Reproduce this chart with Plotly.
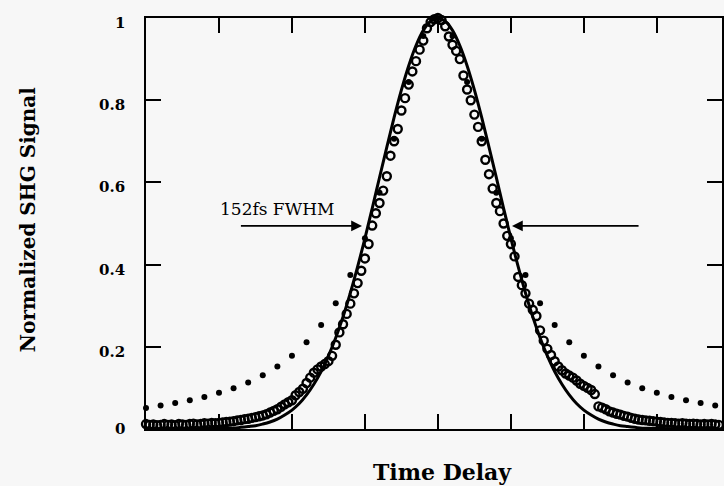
import numpy as np
import plotly.graph_objects as go

# ---- data (time delay in tick units, normalized SHG signal) ----
data_x = np.round(np.linspace(-4.0, 3.9, 159), 2)
data_y = [
    0.012, 0.010, 0.011, 0.009, 0.010, 0.012, 0.010, 0.011, 0.009, 0.012,
    0.011, 0.010, 0.012, 0.013, 0.011, 0.012, 0.014, 0.013, 0.015, 0.014,
    0.015, 0.016, 0.017, 0.018, 0.019, 0.021, 0.022, 0.024, 0.025, 0.027,
    0.029, 0.031, 0.033, 0.036, 0.040, 0.044, 0.048, 0.054, 0.060, 0.065,
    0.070, 0.082, 0.090, 0.098, 0.112, 0.125, 0.137, 0.145, 0.152, 0.158,
    0.165, 0.178, 0.205, 0.235, 0.255, 0.280, 0.305, 0.330, 0.355, 0.385,
    0.415, 0.450, 0.495, 0.525, 0.550, 0.580, 0.615, 0.665, 0.700, 0.730,
    0.775, 0.805, 0.838, 0.870, 0.895, 0.923, 0.945, 0.975, 0.990, 0.997,
    1.000,
    0.995, 0.980, 0.955, 0.935, 0.920, 0.900, 0.860, 0.826, 0.800, 0.765,
    0.735, 0.700, 0.655, 0.620, 0.585, 0.550, 0.530, 0.500, 0.470, 0.450,
    0.420, 0.370, 0.350, 0.330, 0.305, 0.290, 0.275, 0.240, 0.215, 0.195,
    0.180, 0.165, 0.152, 0.143, 0.135, 0.130, 0.125, 0.118, 0.110, 0.105,
    0.100, 0.095, 0.085, 0.055, 0.052, 0.048, 0.043, 0.040, 0.037, 0.035,
    0.032, 0.030, 0.027, 0.025, 0.023, 0.022, 0.021, 0.020, 0.019, 0.018,
    0.017, 0.016, 0.015, 0.015, 0.014, 0.013, 0.014, 0.013, 0.012, 0.013,
    0.012, 0.011, 0.012, 0.011, 0.012, 0.011, 0.010, 0.011,
]

# solid fitted curve
fit_x = np.round(np.linspace(-4.0, 3.9, 80), 1)
fit_y = [
    0.000, 0.000, 0.000, 0.000, 0.000, 0.000, 0.000, 0.000, 0.001, 0.001,
    0.001, 0.002, 0.002, 0.004, 0.006, 0.008, 0.012, 0.017, 0.024, 0.034,
    0.046, 0.062, 0.083, 0.109, 0.140, 0.178, 0.222, 0.273, 0.331, 0.395,
    0.464, 0.537, 0.612, 0.686, 0.758, 0.825, 0.884, 0.933, 0.970, 0.992,
    1.000,
    0.992, 0.970, 0.933, 0.884, 0.825, 0.758, 0.686, 0.612, 0.537, 0.464,
    0.395, 0.331, 0.273, 0.222, 0.178, 0.140, 0.109, 0.083, 0.062, 0.046,
    0.034, 0.024, 0.017, 0.012, 0.008, 0.006, 0.004, 0.002, 0.002, 0.001,
    0.001, 0.000, 0.000, 0.000, 0.000, 0.000, 0.000, 0.000, 0.000,
]

# dotted (wide-wing) curve
dot_x = np.round(np.linspace(-4.0, 3.8, 40), 1)
dot_y = [
    0.051, 0.057, 0.063, 0.070, 0.078, 0.088, 0.099, 0.113, 0.131, 0.152,
    0.178, 0.211, 0.253, 0.306, 0.375, 0.464, 0.575, 0.706, 0.844, 0.956,
    1.000,
    0.956, 0.844, 0.706, 0.575, 0.464, 0.375, 0.306, 0.253, 0.211, 0.178,
    0.152, 0.131, 0.113, 0.099, 0.088, 0.078, 0.070, 0.063, 0.057,
]

y_ticks = [0, 0.2, 0.4, 0.6, 0.8, 1]
y_ticktext = ["0", "0.2", "0.4", "0.6", "0.8", "1"]
x_ticks = [-3, -2, -1, 0, 1, 2, 3]

fwhm_label = "152fs FWHM"
fwhm_left = (-1.04, 0.494, -2.72)
fwhm_right = (1.015, 0.494, 2.77)

BG = "#f7f7f7"
SERIF = "DejaVu Serif"

fig = go.Figure()
fig.add_trace(go.Scatter(
    x=dot_x, y=dot_y, mode="markers",
    marker=dict(size=6, color="black"), cliponaxis=False, showlegend=False))
fig.add_trace(go.Scatter(
    x=fit_x, y=fit_y, mode="lines",
    line=dict(color="black", width=3, shape="spline"), showlegend=False))
fig.add_trace(go.Scatter(
    x=data_x, y=data_y, mode="markers",
    marker=dict(symbol="circle-open", size=8, color="black", line=dict(width=2.4, color="black")),
    cliponaxis=False, showlegend=False))

for tip_x, yy, tail_x in (fwhm_left, fwhm_right):
    fig.add_annotation(x=tip_x, y=yy, ax=tail_x, ay=yy, xref="x", yref="y",
                       axref="x", ayref="y", text="", showarrow=True,
                       arrowhead=2, arrowsize=1.2, arrowwidth=1.8, arrowcolor="black")

fig.add_annotation(x=-2.21, y=0.535, xref="x", yref="y", text=fwhm_label,
                   showarrow=False, font=dict(family=SERIF, size=17, color="black"))

# y tick labels (typeset slightly below their ticks, as in the original)
for v, t in zip(y_ticks, y_ticktext):
    fig.add_annotation(x=-0.033, y=v, xref="paper", yref="y", text=t,
                       showarrow=False, xanchor="right", yanchor="middle",
                       yshift=(0 if v == 0 else -5),
                       font=dict(family=SERIF, size=15, color="black", weight="bold"))

fig.add_annotation(x=-0.206, y=0.509, xref="paper", yref="paper",
                   text="Normalized SHG Signal", textangle=-90, showarrow=False,
                   xanchor="center", yanchor="middle",
                   font=dict(family=SERIF, size=20, color="black", weight="bold"))
fig.add_annotation(x=0.514, y=-0.105, xref="paper", yref="paper",
                   text="Time Delay", showarrow=False,
                   xanchor="center", yanchor="middle",
                   font=dict(family=SERIF, size=22, color="black", weight="bold"))

fig.update_xaxes(range=[-4.0, 3.893], showline=True, linecolor="black", linewidth=2,
                 mirror="ticks", ticks="inside", ticklen=15, tickwidth=2, tickcolor="black",
                 tickvals=x_ticks, showticklabels=False, showgrid=False, zeroline=False)
fig.update_yaxes(range=[0, 1], showline=True, linecolor="black", linewidth=2,
                 mirror="ticks", ticks="inside", ticklen=15, tickwidth=2, tickcolor="black",
                 tickvals=y_ticks, showticklabels=False, showgrid=False, zeroline=False)

fig.update_layout(width=724, height=486, margin=dict(l=146, r=0, t=18, b=57),
                  paper_bgcolor=BG, plot_bgcolor=BG, showlegend=False)

fig.write_html("out.html")
